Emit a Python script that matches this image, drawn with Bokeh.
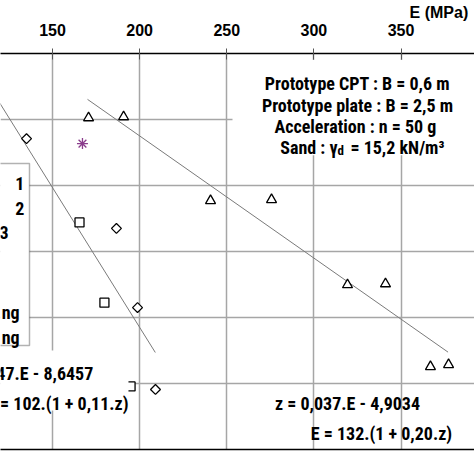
from bokeh.plotting import figure
from bokeh.models import Range1d, LinearAxis, FixedTicker, BoxAnnotation, Label
from bokeh.embed import file_html
from bokeh.resources import INLINE

NARROW = "'Roboto Condensed', 'Liberation Sans Narrow', 'Arial Narrow', 'Liberation Sans', sans-serif"
REG = "'Liberation Sans', Arial, sans-serif"

# ---- data (E in MPa, z in m) ----
e_ticks = [150, 200, 250, 300, 350]
z_grid = [2, 4, 6, 8, 10]

tri_E = [170.7, 190.8, 240.7, 275.7, 319.3, 341.1, 366.9, 377.3]
tri_z = [1.95, 1.92, 4.46, 4.43, 7.01, 6.98, 9.49, 9.43]

dia_E = [135.1, 186.7, 198.8, 209.1]
dia_z = [2.58, 5.30, 7.70, 10.18]

sq_E = [165.5, 179.8, 194.8]
sq_z = [5.12, 7.55, 10.09]

ast_E = [167.2]
ast_z = [2.73]

fitA_E = [170.1, 377.0]
fitA_z = [1.39, 9.05]
fitB_E = [115.0, 209.0]
fitB_z = [1.10, 9.06]

info_lines = ["Prototype CPT : B = 0,6 m",
              "Prototype plate : B = 2,5 m",
              "Acceleration :  n = 50 g"]
legend_texts = ["1", "2", "3", "ng", "ng"]

p = figure(width=474, height=474, output_backend="svg", toolbar_location=None,
           x_range=Range1d(120.16, 392.18), y_range=Range1d(12, 0),
           x_axis_location="above", y_axis_location=None,
           min_border_left=0, min_border_right=0, min_border_top=53, min_border_bottom=25,
           margin=(0, 0, 0, 0), outline_line_color=None, background_fill_color="white")

ax = p.xaxis[0]
ax.ticker = FixedTicker(ticks=e_ticks)
ax.axis_line_color = "black"
ax.axis_line_width = 1.6
ax.major_tick_line_color = "#555555"
ax.major_tick_line_width = 1
ax.major_tick_out = 5
ax.major_tick_in = 6
ax.minor_tick_line_color = None
ax.major_label_text_font = REG
ax.major_label_text_font_style = "bold"
ax.major_label_text_font_size = "16px"
ax.major_label_text_color = "black"
ax.major_label_standoff = 13
# the axis title sits at the right end of the axis, partly cut by the edge
ax.axis_label = "E (MPa)" + "\u00a0" * 16
ax.axis_label_text_font = REG
ax.axis_label_text_font_style = "bold"
ax.axis_label_text_font_size = "16px"
ax.axis_label_text_color = "black"
ax.axis_label_standoff = 0
if "axis_label_align" in ax.properties():
    ax.axis_label_align = "end"

bottom = LinearAxis(ticker=FixedTicker(ticks=[]), axis_line_color="black", axis_line_width=1.6,
                    major_tick_line_color=None, minor_tick_line_color=None,
                    major_label_text_font_size="0px")
p.add_layout(bottom, "below")

p.xgrid.ticker = FixedTicker(ticks=e_ticks)
p.ygrid.ticker = FixedTicker(ticks=z_grid)
for g in (p.xgrid, p.ygrid):
    g.grid_line_color = "#a6a6a6"
    g.grid_line_width = 1.5

# white panel behind the info text (hides the grid there)
p.add_layout(BoxAnnotation(left=253.3, right=400, top=0.2, bottom=3.08,
                           fill_color="white", fill_alpha=1, line_color=None, level="underlay"))

# fit lines
p.line(fitA_E, fitA_z, line_color="#7a7a7a", line_width=1)
p.line(fitB_E, fitB_z, line_color="#7a7a7a", line_width=1)

# markers
p.scatter(tri_E, tri_z, marker="triangle", size=10, fill_color="white",
          line_color="black", line_width=1.3)
p.scatter(dia_E, dia_z, marker="square", angle=0.785398, size=7, fill_color="white",
          line_color="black", line_width=1.3)
p.scatter(sq_E, sq_z, marker="square", size=9, fill_color="white",
          line_color="black", line_width=1.3)
p.scatter(ast_E, ast_z, marker="asterisk", size=11, line_color="#8a3d8c", line_width=1.3)

# white panel behind the left equations
p.add_layout(BoxAnnotation(left=100, right=193.6, top=9.0, bottom=10.82,
                           fill_color="white", fill_alpha=1, line_color=None))

# legend box (mostly cropped)
p.add_layout(BoxAnnotation(left=100, right=136.8, top=3.33, bottom=8.85,
                           fill_color="white", fill_alpha=1, line_color="black", line_width=1.5))

def lab(x, y, text, align="center", size="18px", font=NARROW):
    p.add_layout(Label(x=x, y=y, text=text, text_font=font, text_font_style="bold",
                       text_font_size=size, text_color="black", text_align=align,
                       text_baseline="alphabetic"))

# legend texts (the visible right ends)
for t, x, y in zip(legend_texts, [133.9, 133.9, 124.8, 131.1, 131.1],
                   [3.94, 4.70, 5.42, 7.85, 8.61]):
    lab(x, y, t, align="right", size="18px")

# info block
for t, y in zip(info_lines, [0.91, 1.58, 2.21]):
    lab(325.0, y, t)
lab(313.6, 2.85, "Sand : \u03b3", align="right")
lab(313.6, 2.93, "d", align="left", size="13px")
lab(321.0, 2.85, "= 15,2 kN/m\u00b3", align="left")

# equations
lab(175.8, 9.70, "z = 0,0847.E  - 8,6457", align="right")
lab(193.6, 10.61, "E = 102.(1 + 0,11.z)", align="right")
lab(319.3, 10.61, "z = 0,037.E - 4,9034")
lab(338.8, 11.52, "E = 132.(1 + 0,20.z)")

open("out.html", "w").write(file_html(p, INLINE))
